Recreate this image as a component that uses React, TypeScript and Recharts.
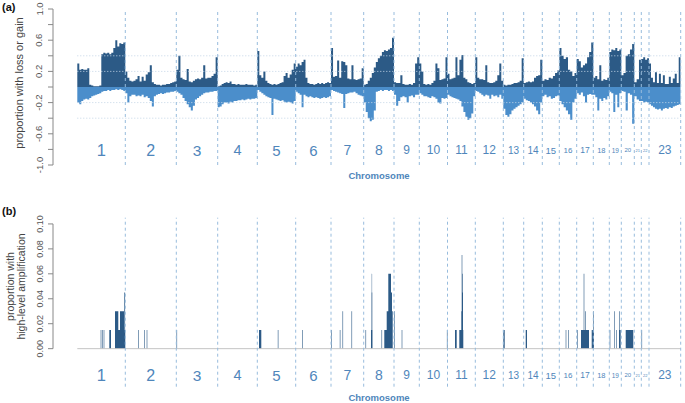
import React from 'react';
import { ComposedChart, Area, XAxis, YAxis, ReferenceLine, Scatter } from 'recharts';

// ---------------- data ----------------
const chromosomes = ['1','2','3','4','5','6','7','8','9','10','11','12','13','14','15','16','17','18','19','20','21','22','23'];
const chromLengths = [480, 510, 414, 396, 384, 353, 327, 303, 253, 282, 278, 280, 204, 186, 170, 174, 166, 160, 120, 130, 70, 77, 317];

const gainProfiles: number[][] = [
  [0.3,0.22,0.23,0.22,0.22,0.24,0.03,0.02,0.01,0.01,0.01,0.02,0.42,0.44,0.43,0.44,0.42,0.44,0.5,0.6,0.52,0.56,0.55,0.57],
  [0.2,0.12,0.08,0.07,0.08,0.1,0.14,0.07,0.13,0.08,0.16,0.19,0.28,0.06,0.04,0.03,0.03,0.02,0.03,0.03,0.04,0.04,0.05,0.06,0.07],
  [0.22,0.4,0.12,0.1,0.09,0.23,0.07,0.06,0.08,0.1,0.11,0.1,0.12,0.28,0.11,0.12,0.12,0.14,0.17,0.38],
  [0.01,0.02,0.04,0.05,0.06,0.05,0.07,0.04,0.04,0.03,0.04,0.03,0.03,0.03,0.04,0.03,0.03,0.03,0.02,0.03],
  [0.46,0.15,0.12,0.2,0.08,0.05,0.04,0.03,0.04,0.03,0.04,0.05,0.06,0.14,0.18,0.12,0.16,0.22,0.3],
  [0.26,0.3,0.28,0.32,0.35,0.12,0.05,0.04,0.04,0.03,0.04,0.05,0.04,0.05,0.04,0.05,0.06,0.05],
  [0.5,0.13,0.14,0.34,0.12,0.33,0.32,0.28,0.11,0.1,0.28,0.1,0.09,0.1,0.11,0.24],
  [0.03,0.04,0.08,0.12,0.18,0.25,0.32,0.37,0.4,0.45,0.47,0.46,0.48,0.5,0.63],
  [0.06,0.05,0.05,0.15,0.04,0.03,0.03,0.04,0.03,0.05,0.3,0.38],
  [0.3,0.2,0.04,0.03,0.04,0.03,0.05,0.08,0.3,0.24,0.09,0.1,0.11,0.38],
  [0.17,0.1,0.11,0.12,0.38,0.15,0.35,0.41,0.12,0.1,0.06,0.05,0.04,0.05],
  [0.38,0.12,0.1,0.1,0.09,0.28,0.06,0.05,0.05,0.06,0.08,0.15,0.3,0.08],
  [0.03,0.02,0.03,0.03,0.04,0.05,0.05,0.06,0.08,0.37],
  [0.05,0.06,0.07,0.06,0.07,0.12,0.14,0.15,0.35],
  [0.08,0.1,0.09,0.12,0.11,0.14,0.18,0.21],
  [0.5,0.4,0.36,0.38,0.22,0.2,0.14,0.18],
  [0.36,0.33,0.25,0.28,0.3,0.38,0.45,0.57],
  [0.12,0.14,0.1,0.28,0.08,0.1,0.09,0.12],
  [0.45,0.48,0.47,0.5,0.46,0.48],
  [0.15,0.18,0.4,0.42,0.48,0.55],
  [0.06,0.1,0.35],
  [0.36,0.38,0.35,0.37],
  [0.3,0.12,0.06,0.19,0.05,0.17,0.05,0.15,0.04,0.04,0.13,0.05,0.11,0.17,0.05,0.38],
];

const lossProfiles: number[][] = [
  [-0.2,-0.22,-0.18,-0.16,-0.15,-0.16,-0.14,-0.12,-0.11,-0.1,-0.09,-0.08,-0.06,-0.05,-0.05,-0.04,-0.05,-0.04,-0.04,-0.03,-0.04,-0.03,-0.04,-0.05],
  [-0.08,-0.2,-0.12,-0.1,-0.1,-0.12,-0.11,-0.12,-0.1,-0.13,-0.12,-0.14,-0.18,-0.25,-0.12,-0.1,-0.09,-0.08,-0.09,-0.08,-0.07,-0.07,-0.06,-0.06,-0.05],
  [-0.06,-0.08,-0.1,-0.14,-0.18,-0.22,-0.26,-0.3,-0.24,-0.16,-0.14,-0.12,-0.1,-0.08,-0.07,-0.07,-0.06,-0.06,-0.05,-0.05],
  [-0.26,-0.25,-0.22,-0.2,-0.2,-0.21,-0.19,-0.2,-0.18,-0.18,-0.17,-0.17,-0.16,-0.17,-0.16,-0.15,-0.16,-0.15,-0.15,-0.14],
  [-0.04,-0.06,-0.08,-0.1,-0.12,-0.13,-0.14,-0.36,-0.15,-0.16,-0.17,-0.18,-0.17,-0.19,-0.2,-0.19,-0.2,-0.21,-0.18],
  [-0.06,-0.08,-0.1,-0.26,-0.1,-0.12,-0.13,-0.12,-0.13,-0.14,-0.13,-0.14,-0.15,-0.14,-0.13,-0.14,-0.13,-0.12],
  [-0.04,-0.05,-0.06,-0.07,-0.08,-0.09,-0.27,-0.09,-0.08,-0.07,-0.07,-0.06,-0.08,-0.1,-0.11,-0.12],
  [-0.2,-0.32,-0.4,-0.44,-0.42,-0.3,-0.06,-0.05,-0.04,-0.05,-0.04,-0.04,-0.05,-0.04,-0.05],
  [-0.1,-0.24,-0.18,-0.13,-0.12,-0.13,-0.2,-0.12,-0.11,-0.13,-0.1,-0.1],
  [-0.08,-0.1,-0.12,-0.12,-0.13,-0.14,-0.12,-0.13,-0.15,-0.2,-0.21,-0.14,-0.15,-0.14],
  [-0.1,-0.12,-0.13,-0.14,-0.15,-0.16,-0.18,-0.25,-0.32,-0.38,-0.42,-0.4,-0.34,-0.12],
  [-0.05,-0.06,-0.08,-0.1,-0.12,-0.1,-0.11,-0.15,-0.1,-0.12,-0.11,-0.13,-0.1,-0.15],
  [-0.28,-0.36,-0.38,-0.35,-0.3,-0.28,-0.26,-0.24,-0.22,-0.2],
  [-0.15,-0.17,-0.18,-0.2,-0.22,-0.25,-0.3,-0.35,-0.2],
  [-0.12,-0.1,-0.13,-0.12,-0.15,-0.14,-0.12,-0.11],
  [-0.18,-0.22,-0.26,-0.3,-0.35,-0.42,-0.2,-0.15],
  [-0.08,-0.1,-0.07,-0.12,-0.2,-0.1,-0.09,-0.1],
  [-0.1,-0.13,-0.3,-0.15,-0.18,-0.14,-0.16,-0.12],
  [-0.06,-0.08,-0.32,-0.1,-0.26,-0.08],
  [-0.05,-0.06,-0.3,-0.08,-0.1,-0.47],
  [-0.12,-0.16,-0.18],
  [-0.18,-0.2,-0.19,-0.2],
  [-0.22,-0.24,-0.26,-0.28,-0.29,-0.28,-0.3,-0.28,-0.27,-0.28,-0.26,-0.27,-0.25,-0.24,-0.23,-0.22],
];

// high-level amplification segments: [chromosome, start, end, proportion]
const ampSegments: [number, number, number, number][] = [
  [1, 234, 240, 0.015], [1, 247, 253, 0.015], [1, 264, 270, 0.015], [1, 320, 337, 0.015],
  [1, 377, 480, 0.015], [1, 377, 410, 0.03], [1, 427, 467, 0.03], [1, 470, 478, 0.045],
  [2, 130, 136, 0.015], [2, 187, 193, 0.015], [2, 214, 220, 0.015],
  [3, 2, 8, 0.015],
  [5, 17, 40, 0.015], [5, 205, 211, 0.015],
  [6, 66, 72, 0.015],
  [7, 1, 7, 0.015], [7, 88, 94, 0.015], [7, 115, 121, 0.03], [7, 205, 211, 0.03],
  [8, 18, 24, 0.015], [8, 73, 88, 0.015], [8, 78, 86, 0.045], [8, 80, 84, 0.06], [8, 178, 184, 0.015],
  [8, 206, 290, 0.015], [8, 230, 290, 0.03], [8, 246, 273, 0.06], [8, 263, 283, 0.045],
  [9, 1, 7, 0.03], [9, 77, 83, 0.015],
  [10, 276, 282, 0.015],
  [11, 75, 92, 0.015], [11, 118, 158, 0.015], [11, 138, 155, 0.03], [11, 142, 148, 0.075],
  [11, 145, 152, 0.06], [11, 148, 155, 0.045],
  [13, 0, 14, 0.015],
  [14, 20, 33, 0.015],
  [16, 64, 70, 0.015], [16, 91, 97, 0.015],
  [17, 4, 10, 0.015], [17, 43, 123, 0.015], [17, 70, 76, 0.06], [17, 87, 93, 0.03], [17, 150, 166, 0.015],
  [18, 0, 6, 0.03],
  [19, 4, 10, 0.015], [19, 47, 53, 0.03], [19, 71, 77, 0.015], [19, 97, 114, 0.015], [19, 100, 106, 0.03],
  [20, 44, 120, 0.015],
  [22, 2, 8, 0.015],
];

const yTicksA = [1, 0.8, 0.6, 0.4, 0.2, 0, -0.2, -0.4, -0.6, -0.8, -1];
const yLabelsA = ['1.0', '0.6', '0.2', '-0.2', '-0.6', '-1.0'];
const yTicksB = [0, 0.02, 0.04, 0.06, 0.08, 0.1];
const gridValuesA = [0.4, 0.2, -0.2, -0.4];

// ---------------- styles ----------------
const labelFontSizes = [16.5, 16, 15.5, 14.5, 15, 15, 14, 14, 12, 12, 12, 12, 10, 10, 9.5, 8, 8.5, 7.5, 6.5, 6, 4, 4, 12];
const GAIN = '#2c5a86';
const LOSS = '#4b8ecb';
const DASH = '#98bcdd';
const LABEL = '#4f86bb';
const FONT = '"Liberation Sans", Arial, Helvetica, sans-serif';
const xPadUnits = 243;

// ---------------- derived ----------------
const chromStarts: number[] = [];
chromLengths.forEach((l, i) => chromStarts.push(i === 0 ? 0 : chromStarts[i - 1] + chromLengths[i - 1]));
const genomeLength = chromLengths.reduce((a, b) => a + b, 0);

const lossGainData: { pos: number; gain: number; loss: number }[] = [];
chromosomes.forEach((_, ci) => {
  const g = gainProfiles[ci];
  const l = lossProfiles[ci];
  const n = g.length;
  for (let i = 0; i < n; i++) {
    lossGainData.push({ pos: chromStarts[ci] + (i * chromLengths[ci]) / n, gain: g[i], loss: l[i] });
  }
});
{
  const last = lossGainData[lossGainData.length - 1];
  lossGainData.push({ pos: genomeLength, gain: last.gain, loss: last.loss });
}

const segs = ampSegments.map(([c, s, e, v]) => ({ s: chromStarts[c - 1] + s, e: chromStarts[c - 1] + e, v }));
const bounds = Array.from(new Set([0, genomeLength, ...segs.flatMap((d) => [d.s, d.e])])).sort((a, b) => a - b);
const ampData = bounds.map((b) => ({
  pos: b,
  amp: Math.max(0, ...segs.filter((d) => d.s <= b && b < d.e).map((d) => d.v)),
}));

const boundaries = [...chromStarts.slice(1), genomeLength];
const labelDataA = chromosomes.map((c, i) => ({ pos: chromStarts[i] + chromLengths[i] / 2, y: -0.81, name: c, idx: i }));
const labelDataB = chromosomes.map((c, i) => ({ pos: chromStarts[i] + chromLengths[i] / 2, y: -0.0212, name: c, idx: i }));

const ChromLabel = (props: any) => {
  const { cx, cy, payload } = props;
  return (
    <text x={cx} y={cy} textAnchor="middle" dominantBaseline="central" fontSize={labelFontSizes[payload.idx]} fill={LABEL} fontFamily={FONT}>
      {payload.name}
    </text>
  );
};

const TickA = (props: any) => {
  const { x, y, payload } = props;
  const label = Number(payload.value).toFixed(1);
  if (!yLabelsA.includes(label)) return <g />;
  const bx = x - 3.5;
  return (
    <text x={bx} y={y} transform={`rotate(-90, ${bx}, ${y})`} textAnchor="middle" fontSize={9.5} fill="#555" fontFamily={FONT}>
      {label}
    </text>
  );
};

const TickB = (props: any) => {
  const { x, y, payload } = props;
  const label = Number(payload.value).toFixed(2);
  const bx = x - 3;
  return (
    <text x={bx} y={y} transform={`rotate(-90, ${bx}, ${y})`} textAnchor="middle" fontSize={9} fill="#555" fontFamily={FONT}>
      {label}
    </text>
  );
};

export default function App() {
  return (
    <div style={{ position: 'absolute', left: 0, top: 0, width: 685, height: 403, background: '#fff' }}>
      <div style={{ position: 'absolute', left: 0, top: 0 }}>
        <ComposedChart width={685} height={200} data={lossGainData} margin={{ top: 9, right: 4.3, bottom: 35, left: 0 }}>
          <XAxis dataKey="pos" type="number" domain={[-xPadUnits, genomeLength]} allowDataOverflow hide />
          <YAxis
            type="number"
            domain={[-1, 1]}
            ticks={yTicksA}
            interval={0}
            allowDataOverflow
            width={53}
            tickSize={5}
            tick={<TickA />}
            tickLine={{ stroke: '#888' }}
            axisLine={{ stroke: '#888' }}
          />
          {gridValuesA.map((v) => (
            <ReferenceLine key={'g' + v} segment={[{ x: 0, y: v }, { x: genomeLength, y: v }]} stroke="#c3d5e6" strokeDasharray="1 2" />
          ))}
          <Area type="stepAfter" dataKey="gain" fill={GAIN} fillOpacity={1} stroke="none" baseValue={0} isAnimationActive={false} dot={false} activeDot={false} />
          <Area type="stepAfter" dataKey="loss" fill={LOSS} fillOpacity={1} stroke="none" baseValue={0} isAnimationActive={false} dot={false} activeDot={false} />
          {boundaries.map((b) => (
            <ReferenceLine key={'b' + b} x={b} stroke={DASH} strokeDasharray="3 3" />
          ))}
          <Scatter data={labelDataA} dataKey="y" shape={<ChromLabel />} isAnimationActive={false} />
        </ComposedChart>
      </div>
      <div style={{ position: 'absolute', left: 0, top: 200 }}>
        <ComposedChart width={685} height={203} data={ampData} margin={{ top: 17.7, right: 4.3, bottom: 16.3, left: 0 }}>
          <XAxis dataKey="pos" type="number" domain={[-xPadUnits, genomeLength]} allowDataOverflow hide />
          <YAxis
            type="number"
            domain={[-0.0305, 0.105]}
            ticks={yTicksB}
            interval={0}
            allowDataOverflow
            width={53}
            tickSize={5}
            tick={<TickB />}
            tickLine={{ stroke: '#888' }}
            axisLine={false}
          />
          <ReferenceLine segment={[{ x: -xPadUnits, y: 0 }, { x: -xPadUnits, y: 0.1 }]} stroke="#888" />
          <ReferenceLine segment={[{ x: 0, y: 0 }, { x: genomeLength, y: 0 }]} stroke="#c4c4c4" />
          <Area type="stepAfter" dataKey="amp" fill={GAIN} fillOpacity={1} stroke="none" baseValue={0} isAnimationActive={false} dot={false} activeDot={false} />
          {boundaries.map((b) => (
            <ReferenceLine key={'b' + b} x={b} stroke={DASH} strokeDasharray="3 3" />
          ))}
          <Scatter data={labelDataB} dataKey="y" shape={<ChromLabel />} isAnimationActive={false} />
        </ComposedChart>
      </div>
      <svg width={685} height={403} style={{ position: 'absolute', left: 0, top: 0, pointerEvents: 'none' }} fontFamily={FONT}>
        <text x={2} y={11} fontSize={11} fontWeight="bold" fill="#111">(a)</text>
        <text x={2} y={215} fontSize={11} fontWeight="bold" fill="#111">(b)</text>
        <text transform="translate(23,83) rotate(-90)" textAnchor="middle" fontSize={11} fill="#444">proportion with loss or gain</text>
        <text transform="translate(14,286.5) rotate(-90)" textAnchor="middle" fontSize={10.5} fill="#444">proportion with</text>
        <text transform="translate(24.5,286.5) rotate(-90)" textAnchor="middle" fontSize={10.5} fill="#444">high-level amplification</text>
        <text x={379} y={179} textAnchor="middle" fontSize={9.5} fontWeight="bold" fill={LABEL}>Chromosome</text>
        <text x={379} y={400.5} textAnchor="middle" fontSize={9.5} fontWeight="bold" fill={LABEL}>Chromosome</text>
      </svg>
    </div>
  );
}
